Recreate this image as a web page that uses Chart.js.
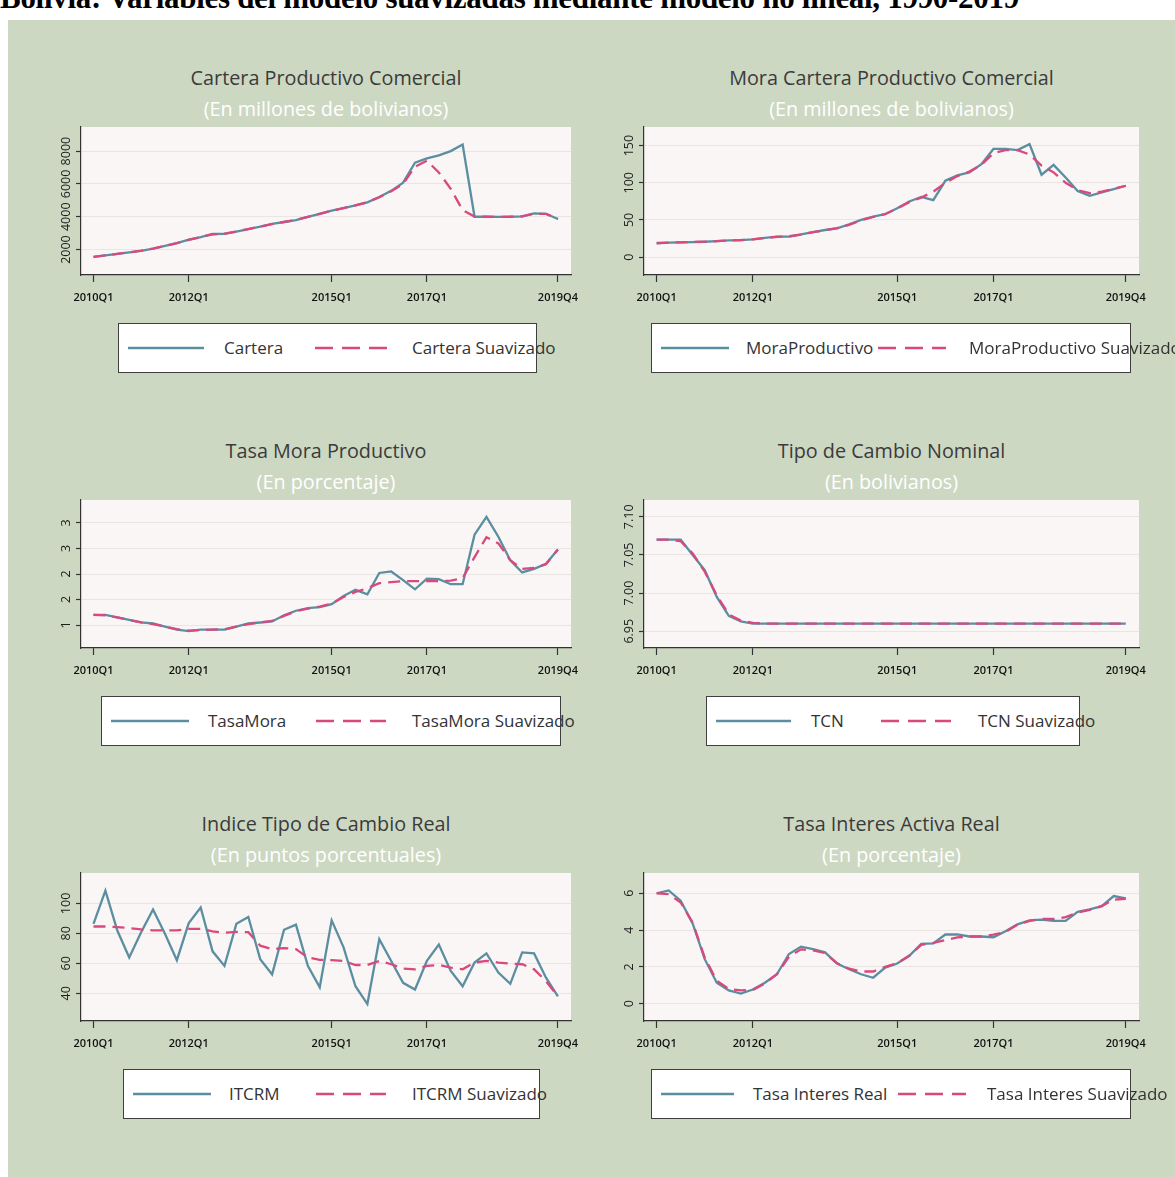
<!DOCTYPE html>
<html>
<head>
<meta charset="utf-8">
<script src="https://cdn.jsdelivr.net/npm/chart.js@4.4.1/dist/chart.umd.min.js"></script>
<style>
  body { margin: 0; width: 1175px; height: 1177px; overflow: hidden; background: #fff; position: relative; font-family: 'Open Sans', sans-serif; }
  #heading { position: absolute; left: 0; top: -18px; font: bold 31px/31px 'Liberation Serif', serif; white-space: nowrap; color: #000; letter-spacing: -0.3px; }
  #board { position: absolute; left: 8px; top: 20px; right: 0; bottom: 0; background: #cdd8c3; }
  .ptitle, .psub { position: absolute; white-space: nowrap; transform: translateX(-50%); line-height: 24px; font-size: 19.8px; }
  .ptitle { color: #3b3b3b; }
  .psub { color: #fff; }
  canvas { position: absolute; }
  .legend { position: absolute; height: 48px; background: #fff; border: 1px solid #3f3f3f; }
  .key { position: absolute; top: 21px; height: 6px; }
  .key svg { display: block; }
  .ltext { position: absolute; top: 12px; font-size: 17px; line-height: 24px; color: #333; white-space: nowrap; }
</style>
</head>
<body>
<div id="heading">Bolivia: Variables del modelo suavizadas mediante modelo no lineal, 1990-2019</div>
<div id="board"></div>
<script>
// quarterly observations, 2010Q1 - 2019Q4
const quarters = [
  '2010Q1','2010Q2','2010Q3','2010Q4','2011Q1','2011Q2','2011Q3','2011Q4',
  '2012Q1','2012Q2','2012Q3','2012Q4','2013Q1','2013Q2','2013Q3','2013Q4',
  '2014Q1','2014Q2','2014Q3','2014Q4','2015Q1','2015Q2','2015Q3','2015Q4',
  '2016Q1','2016Q2','2016Q3','2016Q4','2017Q1','2017Q2','2017Q3','2017Q4',
  '2018Q1','2018Q2','2018Q3','2018Q4','2019Q1','2019Q2','2019Q3','2019Q4'
];
const xTickQuarters = ['2010Q1', '2012Q1', '2015Q1', '2017Q1', '2019Q4'];

const cartera = [1550,1640,1740,1830,1920,2060,2220,2390,2600,2760,2950,2960,3100,3250,3400,3560,3680,3800,3990,4180,
  4370,4530,4700,4880,5200,5580,6080,7300,7560,7740,8000,8400,4000,4000,3990,4000,4020,4200,4180,3860];
const carteraSuav = [1560,1640,1740,1830,1930,2060,2220,2390,2590,2760,2930,2970,3100,3250,3400,3550,3680,3810,3990,4180,
  4370,4530,4700,4890,5190,5560,6000,7050,7420,6700,5700,4400,4010,4000,3990,4000,4030,4180,4170,3870];
const carteraTicks = [2000, 4000, 6000, 8000];

const moraProd = [18.5,19.4,19.8,20.3,20.7,21.6,22.5,23,23.9,26,27.5,27.5,30.6,33.8,36.5,38.7,44,50,54.5,57.7,
  65.8,74.8,81,76.6,102.7,110,114,125,145.5,145.5,144,152,110.8,124,107,89,82.4,87,91.4,96];
const moraProdSuav = [19,19.5,20,20.4,20.8,21.5,22.3,23,24,25.8,27.2,28,30.3,33.5,36.3,39,43.5,49.5,54,58,
  65.5,74,80,88,100,109,115,124,140,144,144,138,123,114,100,90,86,88,92,96];
const moraTicks = [0, 50, 100, 150];

const tasaMora = [1.2,1.2,1.15,1.1,1.05,1.03,0.97,0.91,0.88,0.91,0.91,0.91,0.97,1.03,1.05,1.07,1.19,1.28,1.33,1.35,
  1.41,1.57,1.69,1.6,2.02,2.05,1.88,1.7,1.91,1.9,1.8,1.8,2.77,3.12,2.73,2.27,2.03,2.1,2.2,2.48];
const tasaMoraSuav = [1.2,1.19,1.15,1.1,1.05,1.02,0.97,0.92,0.89,0.9,0.91,0.92,0.97,1.02,1.05,1.08,1.18,1.27,1.32,1.36,
  1.42,1.55,1.65,1.72,1.82,1.84,1.86,1.86,1.86,1.86,1.87,1.92,2.33,2.72,2.6,2.27,2.1,2.12,2.19,2.48];
const tasaMoraTicks = [1, 1.5, 2, 2.5, 3];

const tcn = [7.07,7.07,7.07,7.05,7.03,6.995,6.97,6.963,6.96,6.96,6.96,6.96,6.96,6.96,6.96,6.96,6.96,6.96,6.96,6.96,
  6.96,6.96,6.96,6.96,6.96,6.96,6.96,6.96,6.96,6.96,6.96,6.96,6.96,6.96,6.96,6.96,6.96,6.96,6.96,6.96];
const tcnSuav = [7.07,7.07,7.068,7.052,7.028,6.997,6.972,6.964,6.961,6.96,6.96,6.96,6.96,6.96,6.96,6.96,6.96,6.96,6.96,6.96,
  6.96,6.96,6.96,6.96,6.96,6.96,6.96,6.96,6.96,6.96,6.96,6.96,6.96,6.96,6.96,6.96,6.96,6.96,6.96,6.96];
const tcnTicks = [6.95, 7.00, 7.05, 7.10];

const itcrm = [86.4,108.5,81.9,63.9,80.8,95.9,79.7,62.1,86.9,97.3,68,58.3,86.4,91,62.8,52.6,82.4,85.8,58.3,44,
  88.7,70.7,44.7,32.8,76.1,61.6,47,42.5,61.6,72.5,54.9,44.7,60.5,66.6,53.8,46.3,67.3,66.6,50.4,38];
const itcrmSuav = [84.6,84.6,84.2,83.5,82.6,82,82,82,83,83,81.3,80.4,81,80.8,71.8,69.5,70.2,69.5,63.9,62.3,
  62.1,61.6,58.9,58.9,61.6,59.4,56.5,56,58.3,58.9,57.1,56,60.5,61.6,60.5,59.8,59.4,56,48.1,38];
const itcrmTicks = [40, 60, 80, 100];

const tasaInt = [6.0,6.15,5.6,4.35,2.42,1.14,0.72,0.55,0.77,1.14,1.6,2.7,3.1,2.97,2.79,2.18,1.87,1.6,1.41,1.96,
  2.18,2.6,3.25,3.28,3.76,3.76,3.65,3.65,3.61,3.94,4.31,4.53,4.57,4.5,4.5,4.99,5.12,5.3,5.85,5.72];
const tasaIntSuav = [6.0,5.95,5.5,4.4,2.5,1.25,0.8,0.72,0.75,1.1,1.6,2.55,2.95,2.9,2.75,2.2,1.9,1.75,1.75,2.0,
  2.2,2.6,3.2,3.3,3.45,3.6,3.65,3.65,3.75,3.9,4.3,4.5,4.6,4.6,4.7,4.95,5.1,5.3,5.65,5.7];
const tasaIntTicks = [0, 2, 4, 6];

const SOLID = '#5b8ea0';
const DASHED = '#d8497d';

const panels = [
  { title: 'Cartera Productivo Comercial', sub: '(En millones de bolivianos)',
    names: ['Cartera', 'Cartera Suavizado'], raw: cartera, smooth: carteraSuav,
    ticks: carteraTicks, min: 450, max: 9470, fmt: v => String(v),
    legend: { left: 118, width: 419, key1: [9, 76], text1: 105, key2: [196, 72], text2: 293 } },
  { title: 'Mora Cartera Productivo Comercial', sub: '(En millones de bolivianos)',
    names: ['MoraProductivo', 'MoraProductivo Suavizado'], raw: moraProd, smooth: moraProdSuav,
    ticks: moraTicks, min: -24, max: 175, fmt: v => String(v),
    legend: { left: 651, width: 480, key1: [9, 68], text1: 94, key2: [226, 68], text2: 317 } },
  { title: 'Tasa Mora Productivo', sub: '(En porcentaje)',
    names: ['TasaMora', 'TasaMora Suavizado'], raw: tasaMora, smooth: tasaMoraSuav,
    ticks: tasaMoraTicks, min: 0.55, max: 3.45, fmt: v => String(Math.round(v)),
    legend: { left: 101, width: 460, key1: [9, 78], text1: 106, key2: [214, 70], text2: 310 } },
  { title: 'Tipo de Cambio Nominal', sub: '(En bolivianos)',
    names: ['TCN', 'TCN Suavizado'], raw: tcn, smooth: tcnSuav,
    ticks: tcnTicks, min: 6.928, max: 7.122, fmt: v => v.toFixed(2),
    legend: { left: 706, width: 374, key1: [9, 75], text1: 104, key2: [174, 70], text2: 271 } },
  { title: 'Indice Tipo de Cambio Real', sub: '(En puntos porcentuales)',
    names: ['ITCRM', 'ITCRM Suavizado'], raw: itcrm, smooth: itcrmSuav,
    ticks: itcrmTicks, min: 21.5, max: 120.3, fmt: v => String(v),
    legend: { left: 123, width: 417, key1: [9, 78], text1: 105, key2: [192, 70], text2: 288 } },
  { title: 'Tasa Interes Activa Real', sub: '(En porcentaje)',
    names: ['Tasa Interes Real', 'Tasa Interes Suavizado'], raw: tasaInt, smooth: tasaIntSuav,
    ticks: tasaIntTicks, min: -0.94, max: 7.1, fmt: v => String(v),
    legend: { left: 651, width: 480, key1: [9, 73], text1: 101, key2: [246, 68], text2: 335 } }
];

Chart.defaults.font.family = "'Open Sans', sans-serif";

// light plot region behind the lines
const plotBg = {
  id: 'plotBg',
  beforeDraw(chart) {
    const { ctx, chartArea: a } = chart;
    ctx.save();
    ctx.fillStyle = '#f9f6f5';
    ctx.fillRect(a.left, a.top, a.width, a.height);
    ctx.restore();
  }
};

// vertical y tick labels, read bottom to top
const yLabels = {
  id: 'yLabels',
  afterDraw(chart) {
    const s = chart.scales.y;
    const ctx = chart.ctx;
    ctx.save();
    ctx.fillStyle = '#1e1e1e';
    ctx.font = "12.5px 'Open Sans'";
    ctx.textAlign = 'center';
    ctx.textBaseline = 'middle';
    s.ticks.forEach(t => {
      ctx.save();
      ctx.translate(s.right - 15, s.getPixelForValue(t.value));
      ctx.rotate(-Math.PI / 2);
      ctx.fillText(t.label, 0, 0);
      ctx.restore();
    });
    ctx.restore();
  }
};

function keySvg(width, color, dashed) {
  const dash = dashed ? ' stroke-dasharray="18 9"' : '';
  return `<svg width="${width}" height="6"><line x1="0" y1="3" x2="${width}" y2="3" stroke="${color}" stroke-width="2.5"${dash}/></svg>`;
}

function addEl(tag, cls, style) {
  const el = document.createElement(tag);
  if (cls) el.className = cls;
  Object.assign(el.style, style);
  document.body.appendChild(el);
  return el;
}

panels.forEach((p, i) => {
  const col = i % 2, row = Math.floor(i / 2);
  const plotL = col ? 644 : 81;
  const plotR = col ? 1139 : 571;
  const plotT = 127 + row * 373;
  const plotH = 148;
  const cx = (plotL + plotR) / 2;
  const yAxisW = 40, xAxisH = 40, padT = 4, padR = 34;

  addEl('div', 'ptitle', { left: cx + 'px', top: (66 + row * 373) + 'px' }).textContent = p.title;
  addEl('div', 'psub', { left: cx + 'px', top: (97 + row * 373) + 'px' }).textContent = p.sub;

  const canvas = document.createElement('canvas');
  const w = yAxisW + (plotR - plotL) + padR;
  const h = padT + plotH + xAxisH;
  canvas.width = w; canvas.height = h;
  canvas.style.left = (plotL - yAxisW) + 'px';
  canvas.style.top = (plotT - padT) + 'px';
  canvas.style.width = w + 'px'; canvas.style.height = h + 'px';
  document.body.appendChild(canvas);

  new Chart(canvas, {
    type: 'line',
    data: {
      datasets: [
        { label: p.names[1], data: p.smooth.map((v, k) => ({ x: k, y: v })), borderColor: DASHED,
          borderWidth: 2.3, borderDash: [12, 7], pointRadius: 0, order: 0 },
        { label: p.names[0], data: p.raw.map((v, k) => ({ x: k, y: v })), borderColor: SOLID,
          borderWidth: 2.3, pointRadius: 0, order: 1 }
      ]
    },
    options: {
      responsive: false,
      animation: false,
      devicePixelRatio: 1,
      layout: { autoPadding: false, padding: { top: padT, right: padR, left: 0, bottom: 0 } },
      plugins: { legend: { display: false }, tooltip: { enabled: false } },
      scales: {
        x: {
          type: 'linear', min: -1.05, max: 40.1,
          afterBuildTicks: axis => { axis.ticks = xTickQuarters.map(q => ({ value: quarters.indexOf(q) })); },
          afterFit: axis => { axis.height = xAxisH; axis.paddingLeft = 0; axis.paddingRight = 0; },
          ticks: { callback: v => quarters[v], autoSkip: false, maxRotation: 0, padding: 9,
                   color: '#111', font: { size: 11, weight: '600' } },
          grid: { drawOnChartArea: false, tickColor: '#333', tickLength: 7, tickWidth: 1.2 },
          border: { color: '#333', width: 1.2 }
        },
        y: {
          type: 'linear', min: p.min, max: p.max,
          afterBuildTicks: axis => { axis.ticks = p.ticks.map(v => ({ value: v })); },
          afterFit: axis => { axis.width = yAxisW; axis.paddingTop = 0; axis.paddingBottom = 0; },
          ticks: { display: false, callback: p.fmt },
          grid: { color: '#e8e5e2', tickColor: '#333', tickLength: 5, tickWidth: 1.2 },
          border: { color: '#333', width: 1.2 }
        }
      }
    },
    plugins: [plotBg, yLabels]
  });

  const lg = p.legend;
  const box = addEl('div', 'legend', { left: lg.left + 'px', top: (323 + row * 373) + 'px', width: (lg.width - 2) + 'px' });
  const k1 = document.createElement('div');
  k1.className = 'key'; k1.style.left = lg.key1[0] + 'px'; k1.innerHTML = keySvg(lg.key1[1], SOLID, false);
  const t1 = document.createElement('div');
  t1.className = 'ltext'; t1.style.left = lg.text1 + 'px'; t1.textContent = p.names[0];
  const k2 = document.createElement('div');
  k2.className = 'key'; k2.style.left = lg.key2[0] + 'px'; k2.innerHTML = keySvg(lg.key2[1], DASHED, true);
  const t2 = document.createElement('div');
  t2.className = 'ltext'; t2.style.left = lg.text2 + 'px'; t2.textContent = p.names[1];
  box.append(k1, t1, k2, t2);
});
</script>
</body>
</html>
